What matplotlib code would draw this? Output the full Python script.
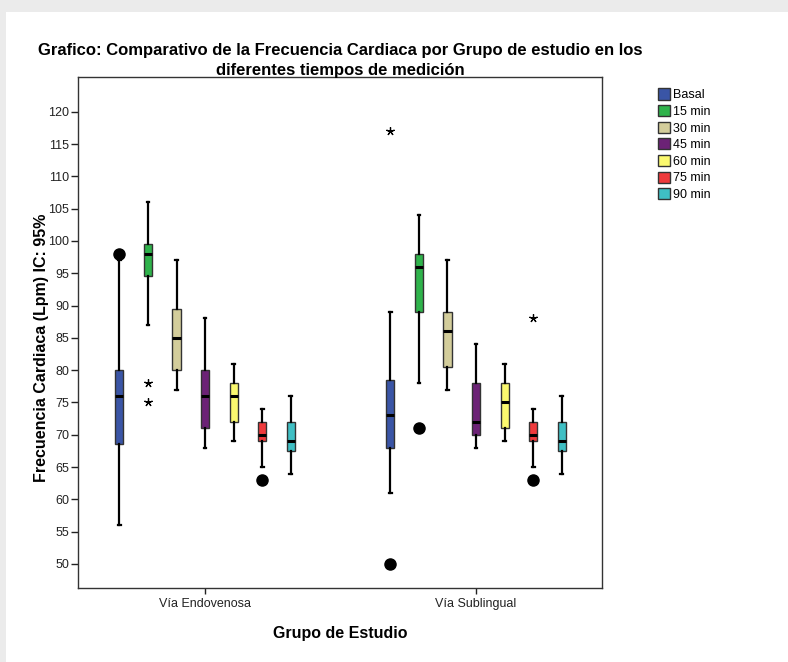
import matplotlib
matplotlib.use("Agg")
import numpy as np
from matplotlib import pyplot as plt
from matplotlib.patches import Patch, Rectangle

plt.rcParams["font.family"] = ["Liberation Sans", "DejaVu Sans"]

groups = ["Vía Endovenosa", "Vía Sublingual"]
times = ["Basal", "15 min", "30 min", "45 min", "60 min", "75 min", "90 min"]
colors = ["#3a55a6", "#2fb34b", "#d3cd9b", "#6c2276", "#fbf96f", "#ef3a3c", "#3fbfc4"]

# per group, per time: whisker low, Q1, median, Q3, whisker high
endo_whislo = [56, 87, 77, 68, 69, 65, 64]
endo_q1 = [68.5, 94.5, 80, 71, 72, 69, 67.5]
endo_med = [76, 98, 85, 76, 76, 70, 69]
endo_q3 = [80, 99.5, 89.5, 80, 78, 72, 72]
endo_whishi = [97, 106, 97, 88, 81, 74, 76]

subl_whislo = [61, 78, 77, 68, 69, 65, 64]
subl_q1 = [68, 89, 80.5, 70, 71, 69, 67.5]
subl_med = [73, 96, 86, 72, 75, 70, 69]
subl_q3 = [78.5, 98, 89, 78, 78, 72, 72]
subl_whishi = [89, 104, 97, 84, 81, 74, 76]

# outliers (circles) and extremes (stars): (group, time index, value)
outliers = [(0, 0, 98), (0, 5, 63), (1, 0, 50), (1, 1, 71), (1, 5, 63)]
extremes = [(0, 1, 78), (0, 1, 75), (1, 0, 117), (1, 5, 88)]

yticks = list(range(50, 125, 5))

stats_by_group = [
    (endo_whislo, endo_q1, endo_med, endo_q3, endo_whishi),
    (subl_whislo, subl_q1, subl_med, subl_q3, subl_whishi),
]

fig = plt.figure(figsize=(7.88, 6.62), dpi=100)
# screenshot frame
fig.patches.append(Rectangle((0, 0.982), 1, 0.018, transform=fig.transFigure,
                             facecolor="#ebebeb", edgecolor="none"))
fig.patches.append(Rectangle((0, 0), 0.007, 1, transform=fig.transFigure,
                             facecolor="#ebebeb", edgecolor="none"))

ax = fig.add_axes([0.099, 0.112, 0.665, 0.771])
step = 0.1055
width = 0.03

for g, (wlo, q1, med, q3, whi) in enumerate(stats_by_group):
    for i in range(len(times)):
        pos = g + (i - 3) * step
        st = dict(whislo=wlo[i], q1=q1[i], med=med[i], q3=q3[i], whishi=whi[i], fliers=[])
        ax.bxp([st], positions=[pos], widths=width, patch_artist=True,
               showfliers=False, manage_ticks=False,
               boxprops=dict(facecolor=colors[i], edgecolor="#333333", linewidth=1.0),
               medianprops=dict(color="black", linewidth=2.2),
               whiskerprops=dict(color="black", linewidth=1.6),
               capprops=dict(color="black", linewidth=1.6),
               capwidths=0.01)

for g, i, v in outliers:
    ax.plot(g + (i - 3) * step, v, "o", color="black", markersize=8)
for g, i, v in extremes:
    ax.plot(g + (i - 3) * step, v, marker=(5, 2, 0), color="black",
            markersize=6, linestyle="none", markeredgewidth=0.9)

ax.set_xlim(-0.469, 1.465)
ax.set_ylim(46.3, 125.3)
ax.set_yticks(yticks)
ax.set_xticks([0, 1])
ax.set_xticklabels(groups)
ax.tick_params(axis="both", labelsize=9, colors="#222222", length=5, width=1, pad=1.5)
ax.tick_params(axis="x", length=4, pad=3)
for s in ax.spines.values():
    s.set_linewidth(1.0)
    s.set_color("#333333")

ax.set_ylabel("Frecuencia Cardiaca (Lpm) IC: 95%", fontsize=11.5, fontweight="bold")
ax.yaxis.set_label_coords(-0.056, 0.47)
ax.set_xlabel("Grupo de Estudio", fontsize=11.5, fontweight="bold", labelpad=12)
fig.text(0.432, 0.882,
         "Grafico: Comparativo de la Frecuencia Cardiaca por Grupo de estudio en los\ndiferentes tiempos de medición",
         ha="center", va="bottom", fontsize=12, fontweight="bold", linespacing=1.4)

handles = [Patch(facecolor=c, edgecolor="#333333", label=t) for c, t in zip(colors, times)]
fig.legend(handles=handles, loc="upper left", bbox_to_anchor=(0.829, 0.874),
           frameon=False, fontsize=9, handlelength=0.95, handleheight=1.0,
           handletextpad=0.25, labelspacing=0.3, borderaxespad=0)

fig.savefig("out.png", dpi=100)
